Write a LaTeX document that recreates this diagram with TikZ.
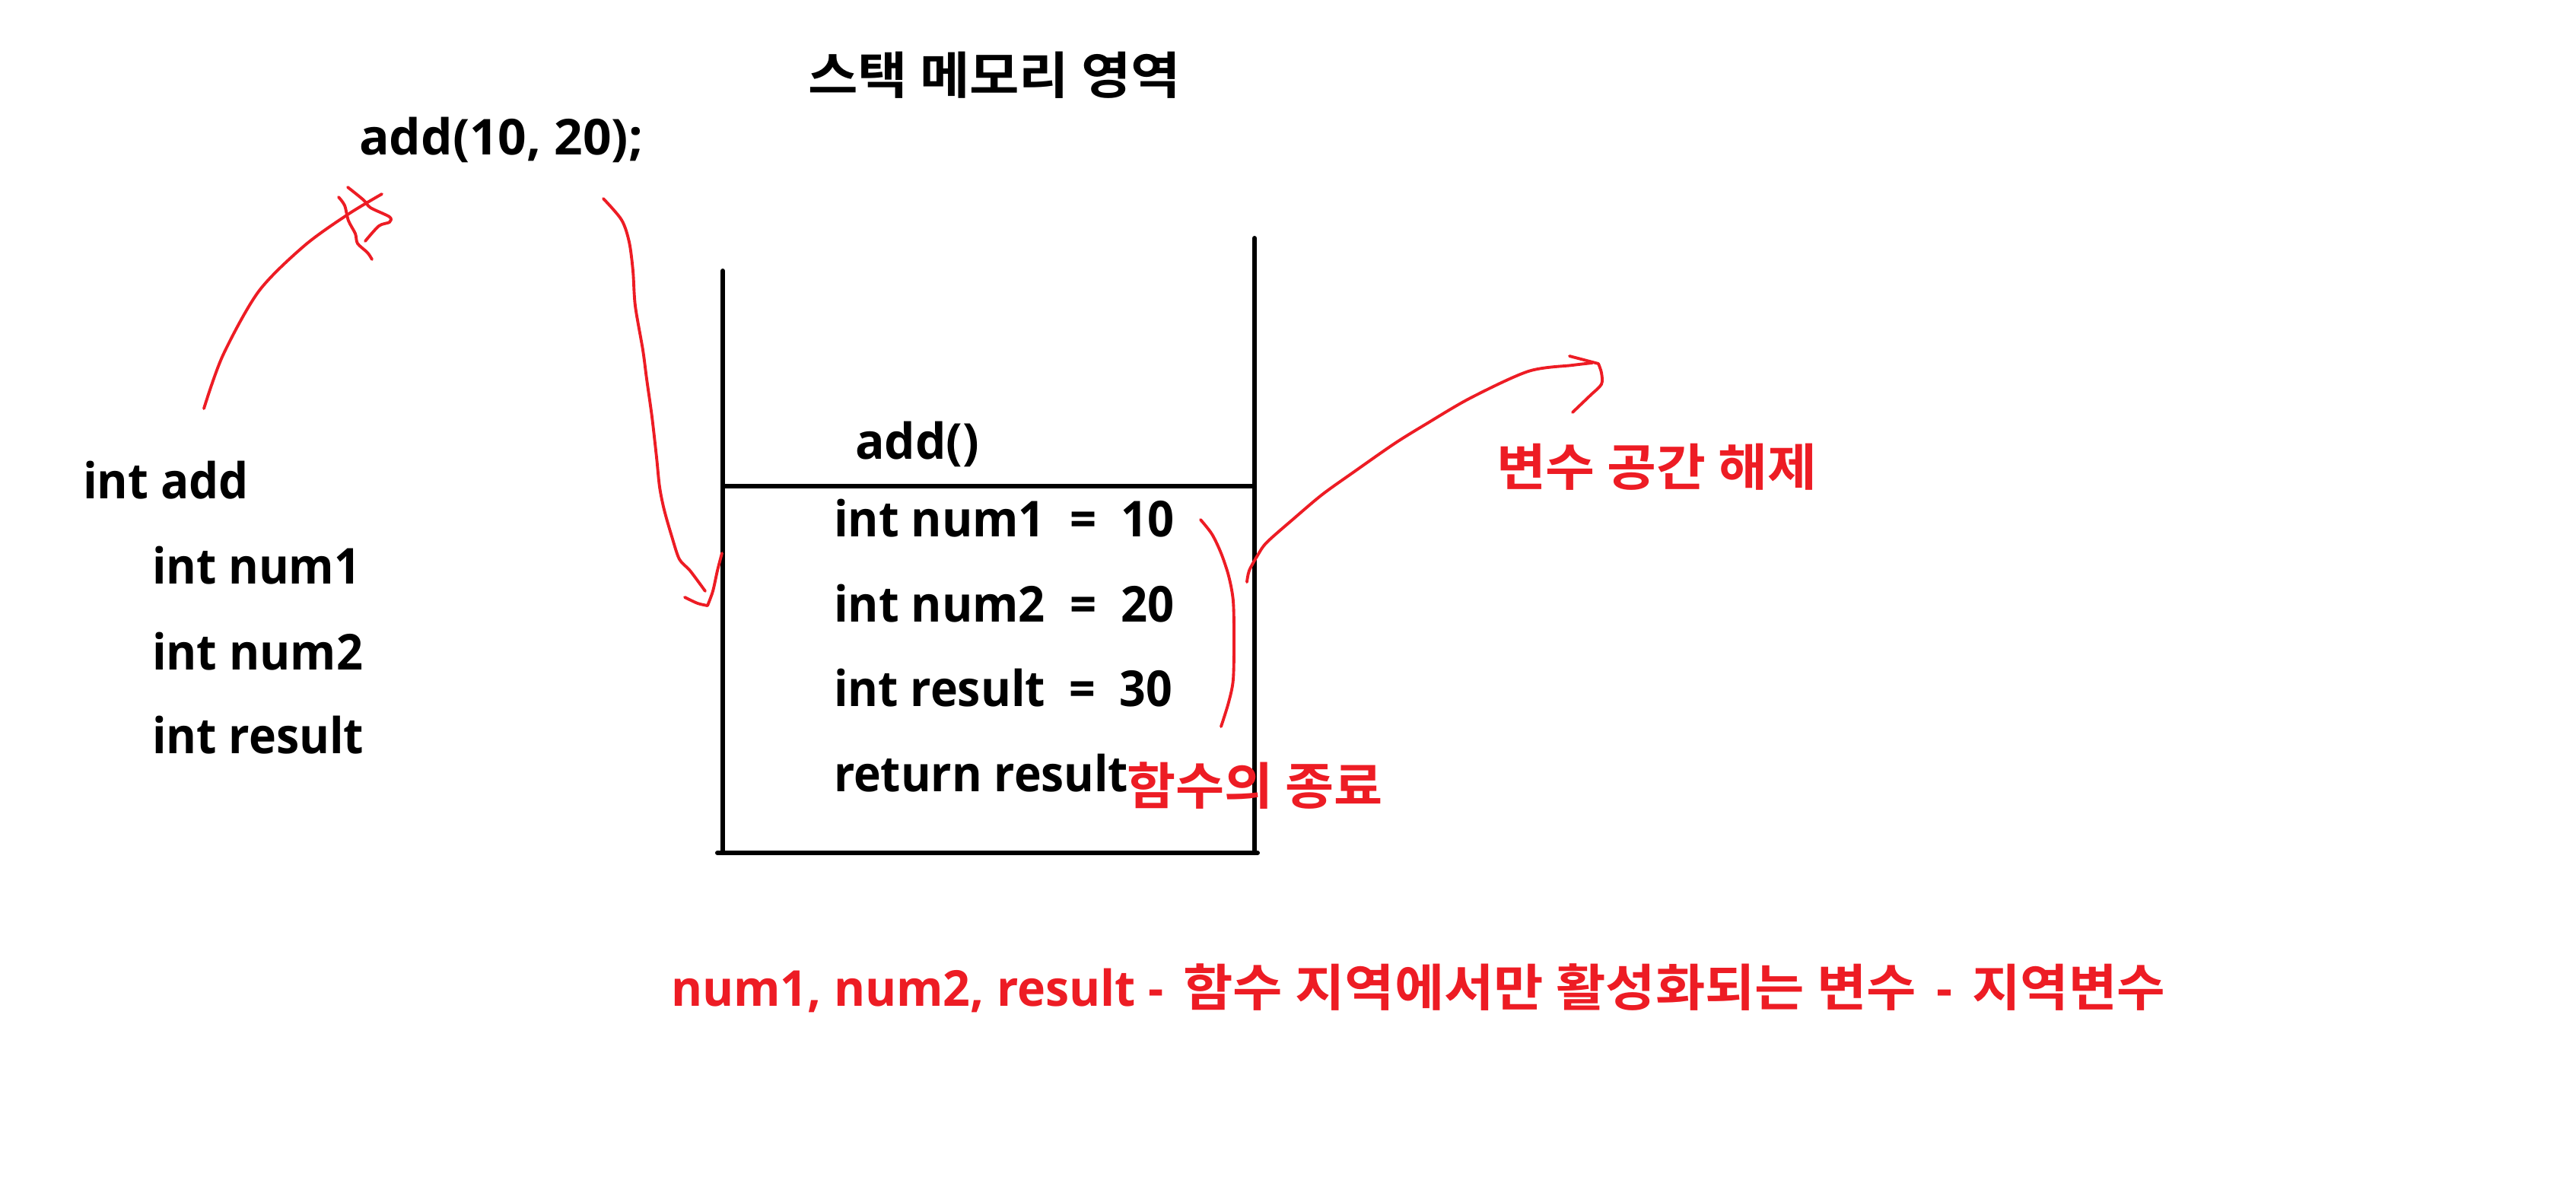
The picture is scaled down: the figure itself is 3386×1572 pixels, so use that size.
\documentclass[tikz,border=0pt]{standalone}
\usepackage{fontspec}
\usepackage{graphicx}
\newfontfamily\lat{Open Sans}[UprightFont={* Bold}]
\newfontfamily\kor{Noto Sans CJK KR}[UprightFont={* Bold}]
\newcommand\latsz{\lat\fontsize{18.5}{22}\selectfont}
\newcommand\korsz{\kor\fontsize{18.8}{22}\selectfont}
\newcommand\fitw[2]{\resizebox{#1cm}{\height}{#2}}
\definecolor{pred}{HTML}{ED1C24}
\begin{document}
\begin{tikzpicture}[x=0.01cm,y=-0.01cm,
  lt/.style={font=\latsz, anchor=base west, inner sep=0pt, outer sep=0pt},
  kt/.style={font=\korsz, anchor=base west, inner sep=0pt, outer sep=0pt},
  wall/.style={line width=1.7pt, line cap=round},
  pen/.style={draw=pred, line width=1.1pt, line cap=round, line join=round}]
\useasboundingbox[fill=white] (0,0) rectangle (3386,1572);

% titles and code
\node[kt] (title) at (1062,123) {\fitw{4.90}{스택 메모리 영역}};
\node[lt] (call) at (472,203) {\fitw{3.73}{add(10, 20);}};
\node[lt] (fadd) at (109,655) {\fitw{2.18}{int add}};
\node[lt] (fn1) at (200,767) {\fitw{2.74}{int num1}};
\node[lt] (fn2) at (200,880) {\fitw{2.77}{int num2}};
\node[lt] (fres) at (200,990) {\fitw{2.78}{int result}};

% stack
\coordinate (sTL) at (950,356);
\coordinate (sBL) at (950,1121);
\coordinate (sTR) at (1649,313);
\coordinate (sBR) at (1649,1121);
\coordinate (sML) at (950,639);
\coordinate (sMR) at (1649,639);
\draw[wall] (sTL) -- (sBL);
\draw[wall] (sTR) -- (sBR);
\draw[wall] ([xshift=-0.07cm]sBL) -- ([xshift=0.04cm]sBR);
\draw[wall] (sML) -- (sMR);

\node[lt] (frame) at (1124,603) {\fitw{1.63}{add()}};
\node[lt] (v1) at (1096,705) {\fitw{4.47}{int num1~~=~~10}};
\node[lt] (v2) at (1096,817) {\fitw{4.47}{int num2~~=~~20}};
\node[lt] (v3) at (1096,928) {\fitw{4.45}{int result~~=~~30}};
\node[lt] (ret) at (1096,1040) {\fitw{3.87}{return result}};

% red labels
\node[kt, text=pred] (end) at (1481,1057) {\fitw{3.36}{함수의 종료}};
\node[kt, text=pred] (free) at (1967,638) {\fitw{4.21}{변수 공간 해제}};
\node[anchor=base west, inner sep=0pt, outer sep=0pt, text=pred] (note) at (882,1322)
  {\fitw{6.47}{\latsz num1, num2, result -}\hspace{0.26cm}\fitw{9.63}{\korsz 함수 지역에서만 활성화되는 변수}\hspace{0.26cm}\fitw{0.21}{\latsz -}\hspace{0.26cm}\fitw{2.54}{\korsz 지역변수}};

% red hand strokes
\draw[pen] plot[smooth] coordinates {(268,537) (293,467) (340,383) (400,323) (457,282) (502,255)};
\draw[pen] plot[smooth] coordinates {(457,246) (478,263) (487,273) (512,285) (512,292) (498,297) (480,317)};
\draw[pen] plot[smooth] coordinates {(445,259) (453,270) (458,290) (467,307) (470,320) (483,332) (489,341)};

\draw[pen] plot[smooth] coordinates {(793,261) (817,289) (827,318) (832,356) (835,402) (845,460) (850,498) (857,548) (863,601) (867,640) (873,670) (883,705) (893,735) (907,750) (927,777)};
\draw[pen] plot[smooth] coordinates {(900,785) (917,793) (930,796)};
\draw[pen] plot[smooth] coordinates {(930,796) (937,777) (943,750) (949,727)};

\draw[pen] plot[smooth] coordinates {(1639,765) (1642,750) (1653,730) (1665,713) (1699,683) (1738,650) (1780,620) (1833,583) (1875,557) (1933,523) (2009,488) (2067,480) (2093,477)};
\draw[pen] plot[smooth] coordinates {(2063,468) (2101,478)};
\draw[pen] plot[smooth] coordinates {(2101,478) (2105,490) (2105,505) (2090,520) (2067,542)};

\draw[pen] plot[smooth] coordinates {(1578,683) (1593,702) (1605,727) (1615,757) (1621,790) (1622,840) (1621,893) (1615,923) (1605,955)};
\end{tikzpicture}
\end{document}
